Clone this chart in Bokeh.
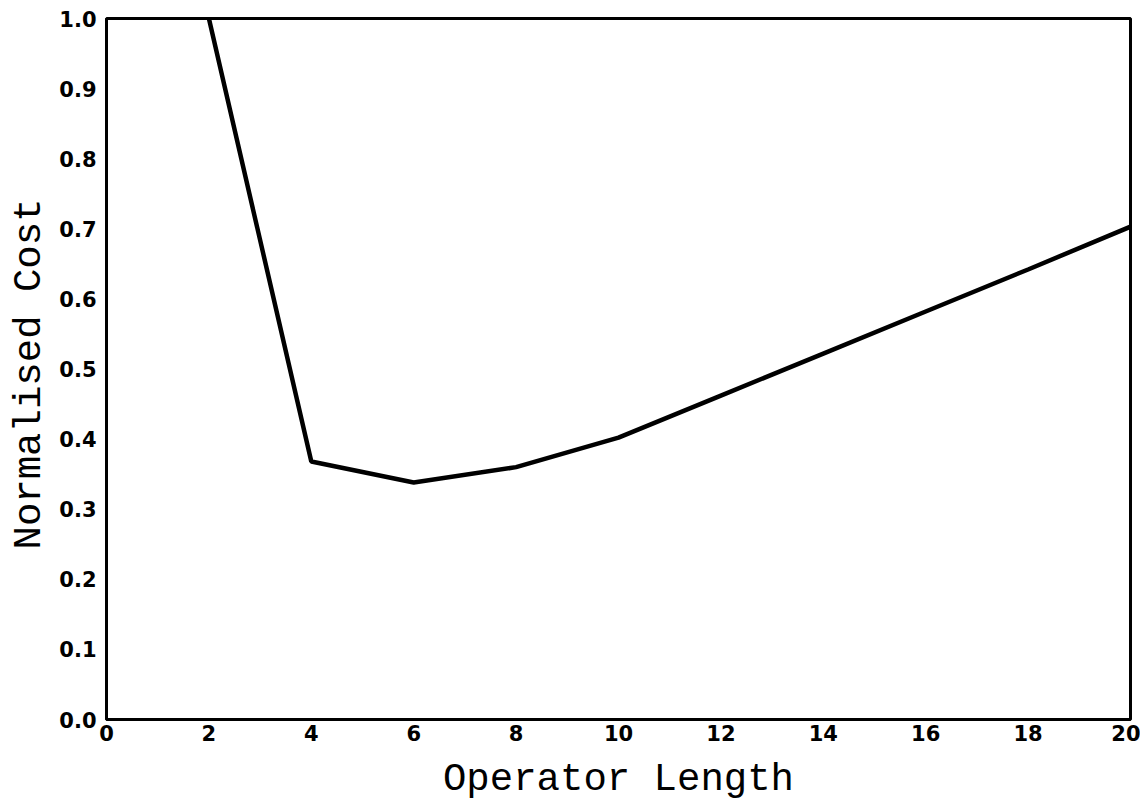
from bokeh.plotting import figure
from bokeh.models import Range1d, FixedTicker, CustomJSTickFormatter, Title
from bokeh.embed import file_html
from bokeh.resources import INLINE

operator_length = [2, 4, 6, 8, 10, 12, 14, 16, 18, 20]
normalised_cost = [1.0, 0.368, 0.338, 0.360, 0.402, 0.462, 0.522, 0.582, 0.642, 0.703]
x_ticks = [0, 2, 4, 6, 8, 10, 12, 14, 16, 18, 20]
y_ticks = [0.0, 0.1, 0.2, 0.3, 0.4, 0.5, 0.6, 0.7, 0.8, 0.9, 1.0]

p = figure(width=1140, height=804, output_backend="svg", toolbar_location=None,
           x_range=Range1d(0, 20), y_range=Range1d(0, 1.0),
           min_border_left=98, min_border_right=10, min_border_top=18, min_border_bottom=80)

p.line(operator_length, normalised_cost, line_color="black", line_width=4.5)

p.xgrid.visible = False
p.ygrid.visible = False
p.outline_line_color = "black"
p.outline_line_width = 3
p.outline_line_alpha = 1.0

for ax in (p.xaxis[0], p.yaxis[0]):
    ax.axis_line_width = 3
    ax.axis_line_color = "black"
    ax.major_tick_out = 0
    ax.major_tick_in = 0
    ax.minor_tick_out = 0
    ax.minor_tick_in = 0
    ax.major_label_text_font = "DejaVu Sans"
    ax.major_label_text_font_style = "bold"
    ax.major_label_text_font_size = "21px"
    ax.major_label_text_color = "black"
    ax.axis_label_text_font = "Liberation Mono"
    ax.axis_label_text_font_style = "normal"
    ax.axis_label_text_font_size = "39px"
    ax.axis_label_text_color = "black"

p.xaxis.ticker = FixedTicker(ticks=x_ticks)
p.yaxis.ticker = FixedTicker(ticks=y_ticks)
p.yaxis.formatter = CustomJSTickFormatter(code="return tick.toFixed(1);")
p.xaxis.major_label_standoff = 5
p.yaxis.major_label_standoff = 10
p.xaxis.axis_label = "Operator Length"
p.xaxis.axis_label_standoff = 14

ylab = Title(text="Normalised Cost", align="left", offset=170, standoff=10,
             text_font="Liberation Mono", text_font_size="39px",
             text_font_style="normal", text_color="black")
p.add_layout(ylab, "left")

open("out.html", "w").write(file_html(p, INLINE))
